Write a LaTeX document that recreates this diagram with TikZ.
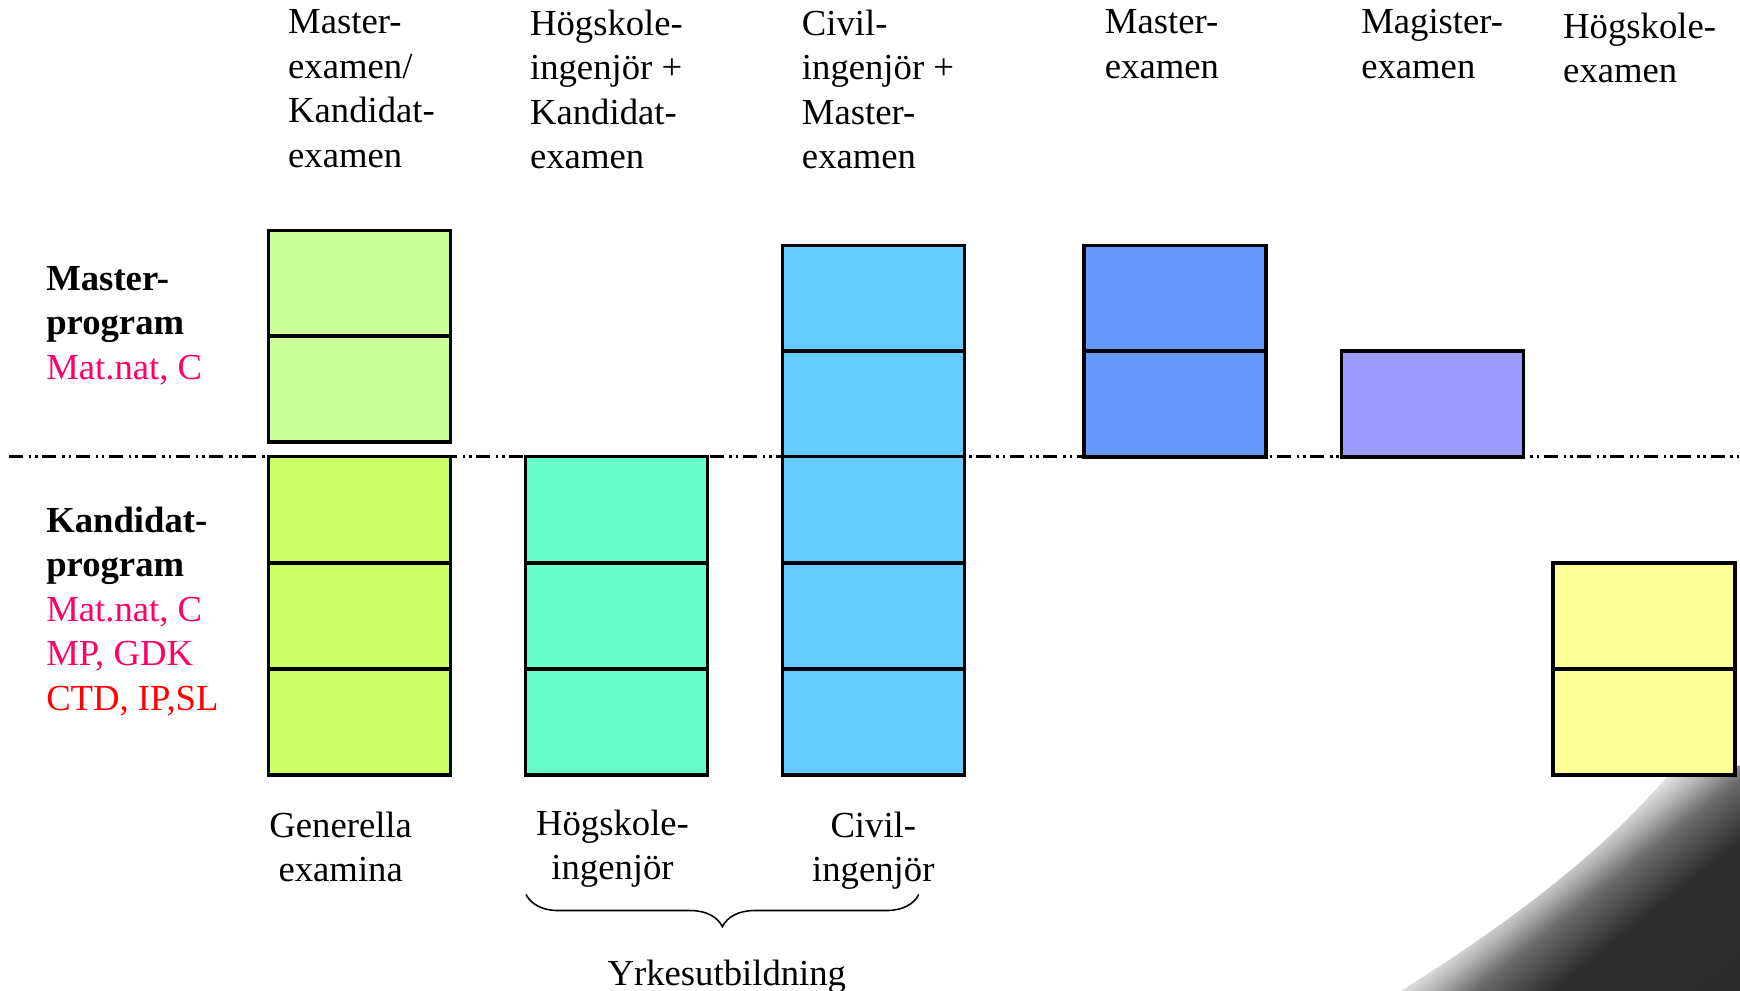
\documentclass[tikz,border=0pt]{standalone}
\usepackage{fontspec}
\setmainfont{Liberation Serif}
\usepackage{tikz}
\usetikzlibrary{shapes,positioning,calc,decorations.pathreplacing}
\definecolor{genup}{HTML}{CCFF99}
\definecolor{genlow}{HTML}{CCFF66}
\definecolor{hing}{HTML}{66FFCC}
\definecolor{cing}{HTML}{66CCFF}
\definecolor{mast}{HTML}{6699FF}
\definecolor{magi}{HTML}{9999FF}
\definecolor{hexa}{HTML}{FFFF99}
\definecolor{progpink}{HTML}{FF0066}
\definecolor{progred}{HTML}{FF0000}
\pgfdeclareverticalshading{chalk}{100bp}{color(0bp)=(black!85); color(36bp)=(black!82); color(45bp)=(black!58); color(50bp)=(black!28); color(54bp)=(black!8); color(56bp)=(white); color(100bp)=(white)}
\tikzset{
	semithick, x=0.01cm, y=-0.01cm,
	block/.style = {rectangle, draw, line width=0.9pt, minimum width=1.64cm, minimum height=0.955cm, inner sep=0pt, outer sep=0pt},
	head/.style = {anchor=north west, align=left, inner sep=0pt, font=\fontsize{9.4}{11.4}\selectfont},
	side/.style = {anchor=north west, align=left, inner sep=0pt, font=\fontsize{9.4}{11.4}\selectfont},
	foot/.style = {anchor=north, align=center, inner sep=0pt, font=\fontsize{9.4}{11.4}\selectfont},
	level/.style = {line width=0.8pt, dash pattern=on 3.6pt off 1.5pt on 0.65pt off 1pt on 0.65pt off 1.15pt},
	brace/.style = {decorate, decoration={brace, mirror, amplitude=0.29cm}}
}

\begin{document}
\begin{tikzpicture}
		\useasboundingbox (0,0) rectangle (1568,893);
		
		% chalkboard corner
		\begin{scope}
		\clip (1262,893) .. controls (1335,848) and (1445,772) .. (1510,690) -- (1568,690) -- (1568,893) -- cycle;
		\shade[shading=chalk, shading angle=38.5] (1262,690) rectangle (1568,893);
		\end{scope}
		
		\coordinate (ll) at (8,411);
		\coordinate (lr) at (1568,411);
		\draw[level] (ll) -- (lr);
		
		% Generella examina
		\node[block, fill=genup] (gen1) at (324,255.5) {};
		\node[block, fill=genup] (gen2) at (324,350.5) {};
		\node[block, fill=genlow] (gen3) at (324,459) {};
		\node[block, fill=genlow] (gen4) at (324,555) {};
		\node[block, fill=genlow] (gen5) at (324,650.5) {};
		% Hogskoleingenjor
		\node[block, fill=hing] (hing1) at (555.5,459) {};
		\node[block, fill=hing] (hing2) at (555.5,555) {};
		\node[block, fill=hing] (hing3) at (555.5,650.5) {};
		% Civilingenjor
		\node[block, fill=cing] (cing1) at (787,269) {};
		\node[block, fill=cing] (cing2) at (787,364) {};
		\node[block, fill=cing] (cing3) at (787,459) {};
		\node[block, fill=cing] (cing4) at (787,555) {};
		\node[block, fill=cing] (cing5) at (787,650.5) {};
		% Master, Magister, Hogskoleexamen
		\node[block, fill=mast] (mast1) at (1059,269) {};
		\node[block, fill=mast] (mast2) at (1059,364) {};
		\node[block, fill=magi] (magi1) at (1291,364) {};
		\node[block, fill=hexa] (hexa1) at (1481.5,555) {};
		\node[block, fill=hexa] (hexa2) at (1481.5,650.5) {};
		
		\node[head] (h1) at (259,8) {Master-\\examen/\\Kandidat-\\examen};
		\node[head] (h2) at (477,8) {Högskole-\\ingenjör +\\Kandidat-\\examen};
		\node[head] (h3) at (722,8) {Civil-\\ingenjör +\\Master-\\examen};
		\node[head] (h4) at (995,8) {Master-\\examen};
		\node[head] (h5) at (1226,8) {Magister-\\examen};
		\node[head] (h6) at (1408,11) {Högskole-\\examen};
		
		\node[side] (mp) at (41,239) {\textbf{Master-}\\\textbf{program}\\\textcolor{progpink}{Mat.nat, C}};
		\node[side] (kp) at (41,456) {\textbf{Kandidat-}\\\textbf{program}\\\textcolor{progpink}{Mat.nat, C}\\\textcolor{progpink}{MP, GDK}\\\textcolor{progred}{CTD, IP,SL}};
		
		\node[foot] (f1) at (307,731) {Generella\\examina};
		\node[foot] (f2) at (552,729) {Högskole-\\ingenjör};
		\node[foot] (f3) at (787,731) {Civil-\\ingenjör};
		
		\coordinate (bl) at (474,806);
		\coordinate (br) at (828,806);
		\draw[brace] (bl) -- (br);
		\node[anchor=base, inner sep=0pt, font=\fontsize{9.4}{11.4}\selectfont] (yrk) at (655,888) {Yrkesutbildning};
		\end{tikzpicture}
\end{document}
